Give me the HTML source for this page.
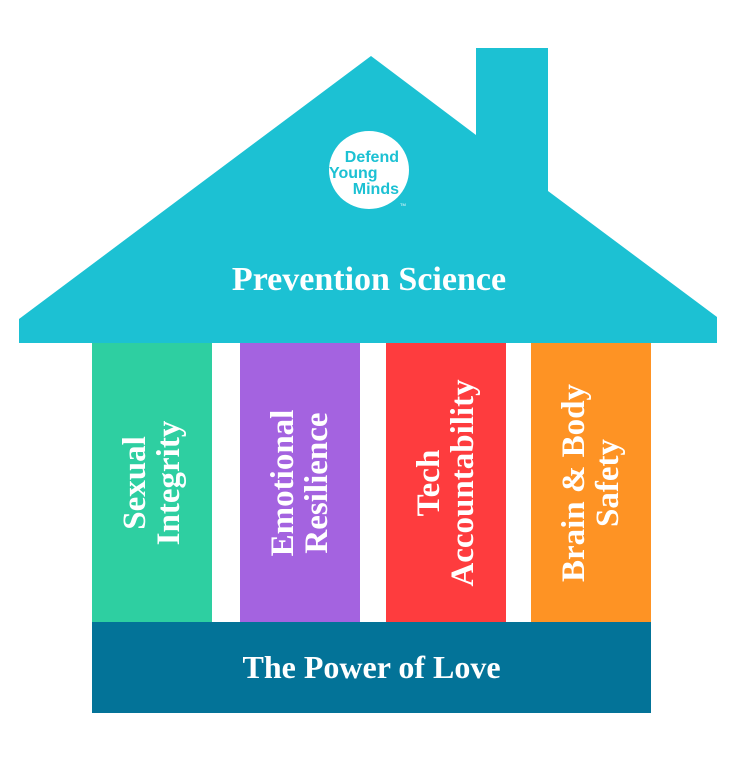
<!DOCTYPE html>
<html><head><style>
body{margin:0;background:#fff;width:742px;height:758px;overflow:hidden;position:relative;font-family:"Liberation Serif","DejaVu Serif",serif;}
.p{position:absolute;top:343px;height:279px;width:120px;}
.t{position:absolute;left:50%;top:50%;transform:translate(-50%,-50%) rotate(-90deg);white-space:nowrap;color:#fff;font-weight:bold;font-size:33px;line-height:34px;text-align:center;}
</style></head><body>
<svg width="742" height="758" style="position:absolute;left:0;top:0">
<polygon points="19,319 371,56 476,135 476,48 548,48 548,191 717,317 717,343 19,343" fill="#1cc1d3"/>
<ellipse cx="369" cy="170" rx="40" ry="39" fill="#fff"/>
<text x="399" y="162" text-anchor="end" font-family="Liberation Sans, sans-serif" font-size="16" fill="#1cc1d3" font-weight="bold">Defend</text>
<text x="329" y="178" font-family="Liberation Sans, sans-serif" font-size="16" fill="#1cc1d3" font-weight="bold">Young</text>
<text x="399" y="194" text-anchor="end" font-family="Liberation Sans, sans-serif" font-size="16" fill="#1cc1d3" font-weight="bold">Minds</text>
<text x="400" y="206" font-family="Liberation Sans, sans-serif" font-size="4" fill="#fff">TM</text>
<text x="369" y="290" text-anchor="middle" font-family="Liberation Serif, serif" font-size="34" font-weight="bold" fill="#fff">Prevention Science</text>
</svg>
<div class="p" style="left:92px;background:#2ecfa1"><div class="t">Sexual<br>Integrity</div></div>
<div class="p" style="left:240px;background:#a463e0"><div class="t">Emotional<br>Resilience</div></div>
<div class="p" style="left:386px;background:#fe3c3e"><div class="t">Tech<br>Accountability</div></div>
<div class="p" style="left:531px;background:#fe9324"><div class="t">Brain &amp; Body<br>Safety</div></div>
<div style="position:absolute;left:92px;top:622px;width:559px;height:91px;background:#037398;color:#fff;font-weight:bold;font-size:32px;line-height:91px;text-align:center;">The Power of Love</div>
</body></html>
